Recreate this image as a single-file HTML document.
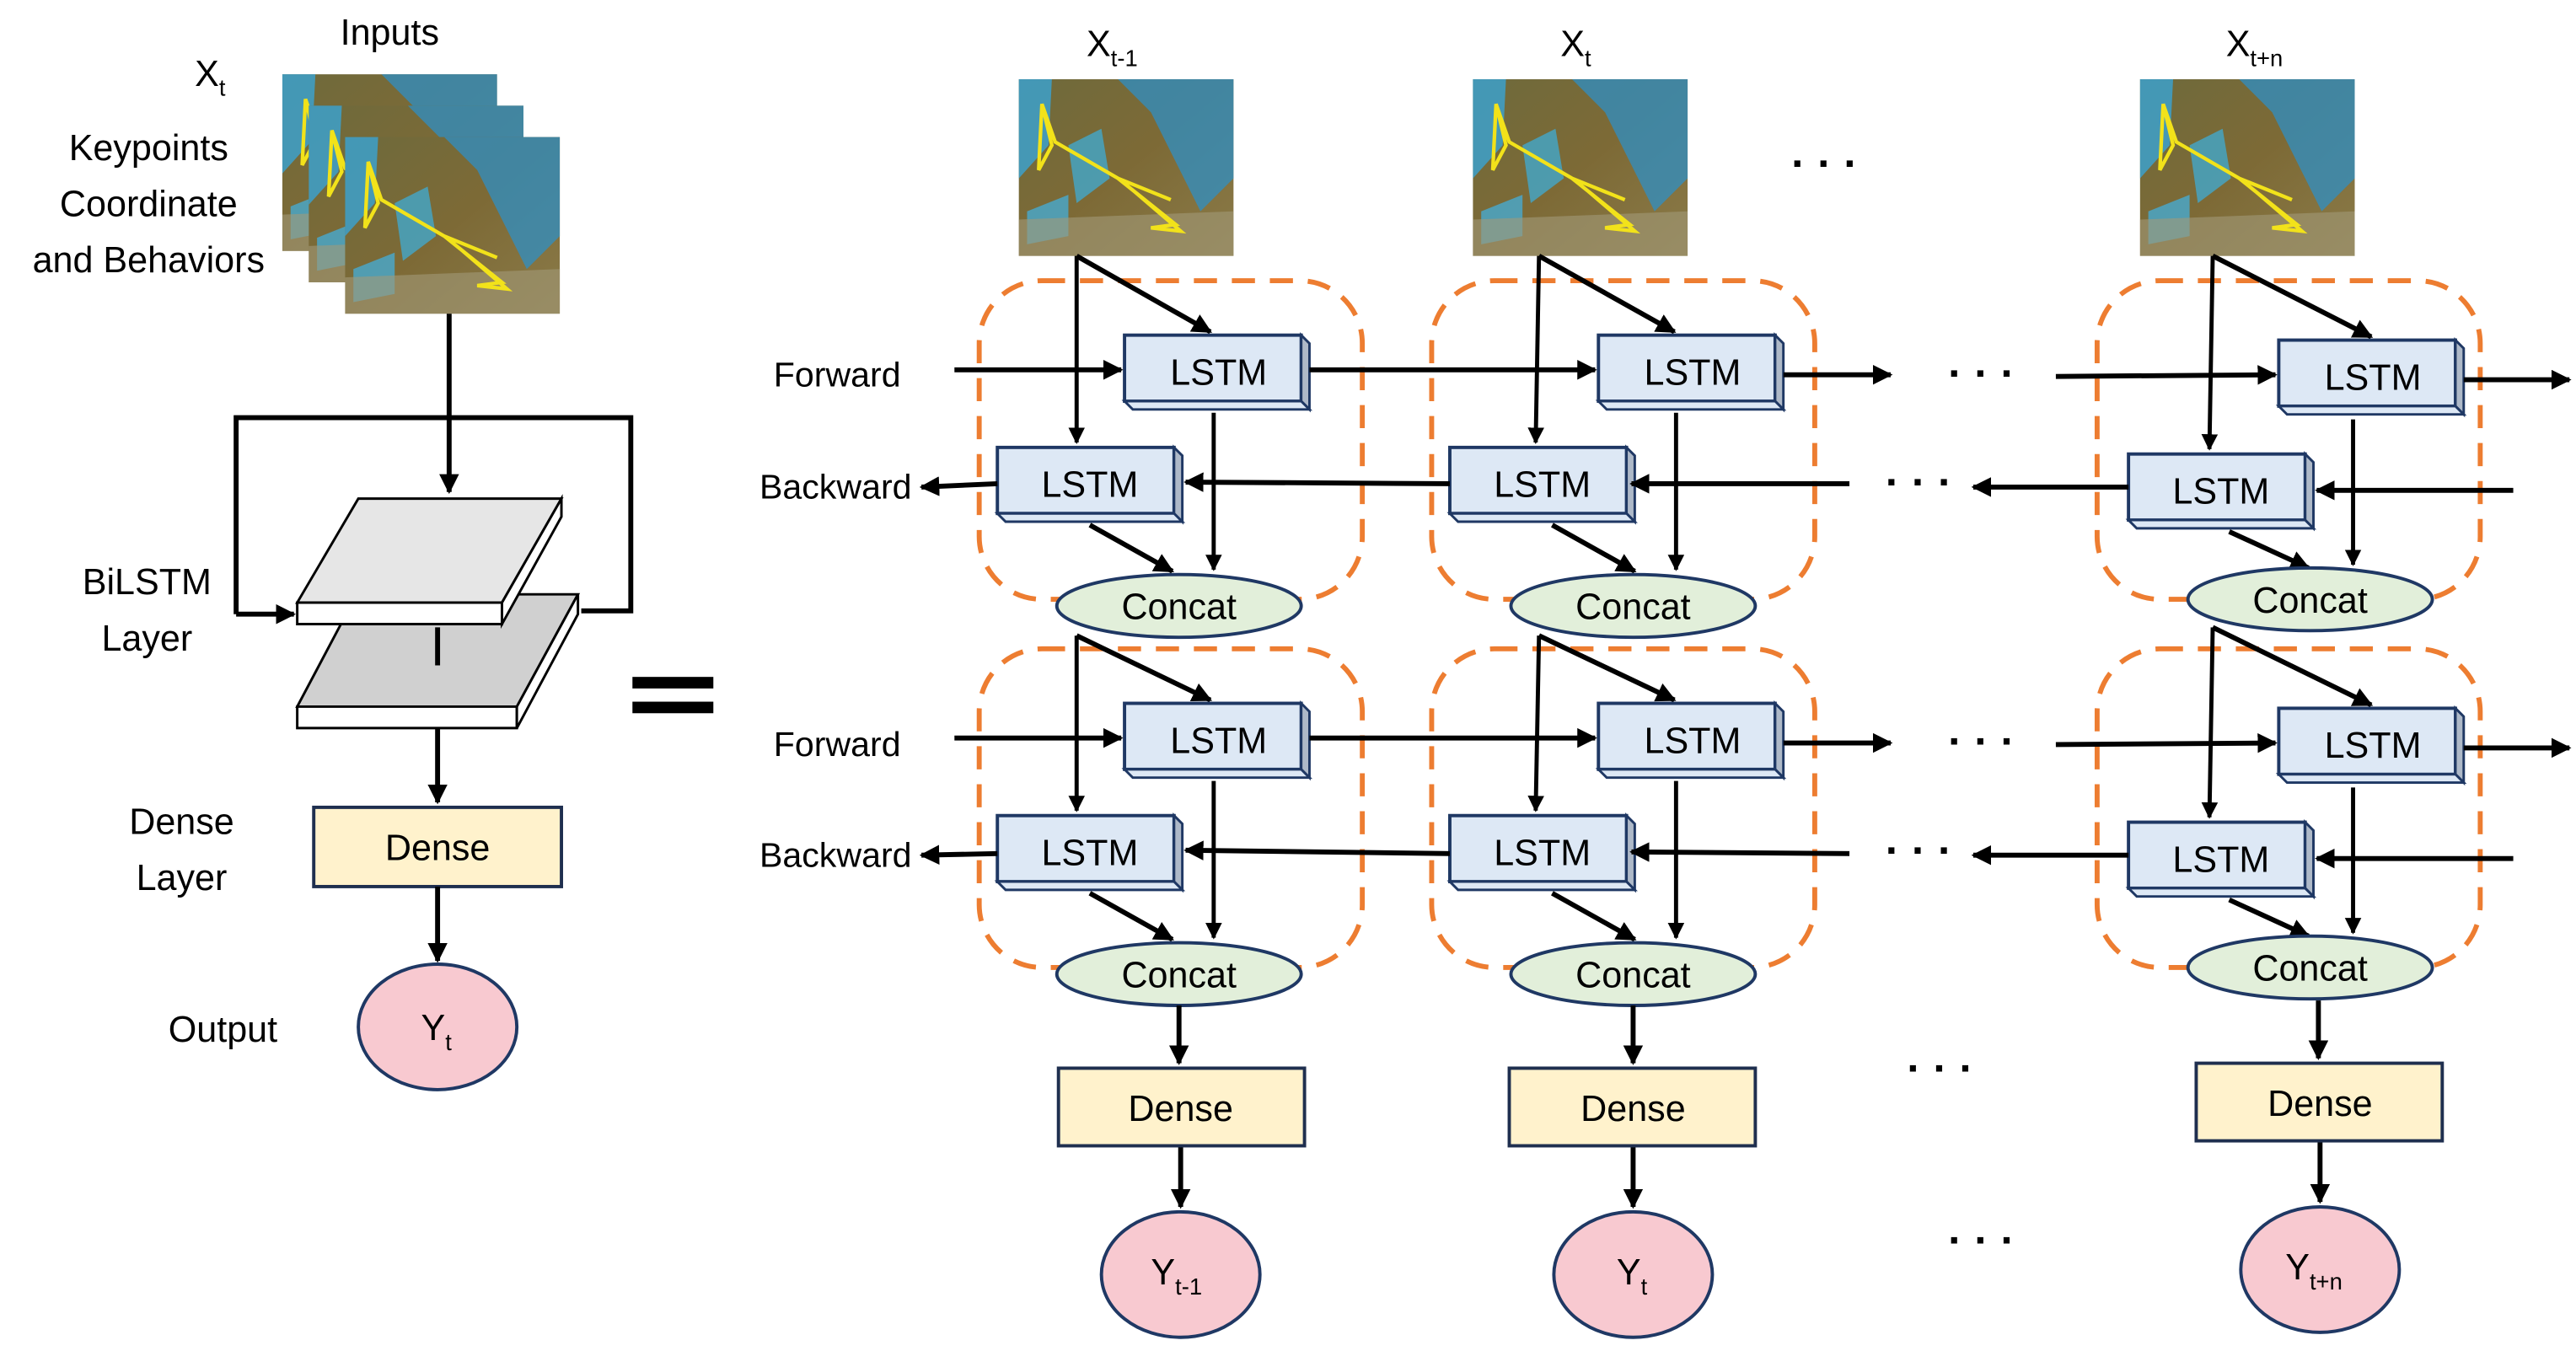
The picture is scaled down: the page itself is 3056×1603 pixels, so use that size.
<!DOCTYPE html>
<html><head><meta charset="utf-8"><style>
html,body{margin:0;padding:0;background:#fff;}
svg{display:block;}
text{font-family:"Liberation Sans",sans-serif;fill:#000;}
</style></head><body>
<svg width="3056" height="1603" viewBox="0 0 1560 818.3" preserveAspectRatio="none" xmlns="http://www.w3.org/2000/svg">
<defs>
<marker id="ah" viewBox="0 0 10 10" refX="9" refY="5" markerWidth="4" markerHeight="4" orient="auto" markerUnits="strokeWidth"><path d="M0,0 L10,5 L0,10 z" fill="#000"/></marker>
<linearGradient id="gb" x1="0" y1="0" x2="1" y2="1"><stop offset="0" stop-color="#6e6a3c"/><stop offset="0.5" stop-color="#7d6a36"/><stop offset="1" stop-color="#8a7a48"/></linearGradient>
<g id="img">
<rect width="130" height="107" fill="url(#gb)"/>
<path d="M0,0 L20,0 L18,40 L0,60 Z" fill="#3aa4d4" opacity="0.8"/>
<path d="M60,0 L130,0 L130,60 L110,80 L95,50 L80,20 Z" fill="#2f8fc4" opacity="0.75"/>
<path d="M30,40 L50,30 L55,60 L35,75 Z" fill="#3ab0e0" opacity="0.7"/>
<path d="M5,80 L30,70 L30,95 L5,100 Z" fill="#40b4e6" opacity="0.7"/>
<path d="M0,85 L130,80 L130,107 L0,107 Z" fill="#a29a78" opacity="0.6"/>
<polyline points="14,15 20,40 12,55 14,15 22,38 60,60 95,88 80,90 98,92 70,68 60,60 92,73" fill="none" stroke="#f2e21a" stroke-width="2.2"/>
</g>
<g id="lstm">
<rect x="0" y="0" width="107" height="40" fill="#dde8f5" stroke="#1f3864" stroke-width="2"/>
<polygon points="107,0 112,5 112,45 107,40" fill="#aeb9c8" stroke="#1f3864" stroke-width="1.5"/>
<polygon points="0,40 107,40 112,45 5,45" fill="#dde8f5" stroke="#1f3864" stroke-width="1.5"/>
</g>
</defs>

<!-- LEFT -->
<text x="236" y="27" font-size="22" text-anchor="middle">Inputs</text>
<text x="118" y="52" font-size="22">X<tspan font-size="14" dy="6">t</tspan></text>
<text x="90" y="97" font-size="22" text-anchor="middle">Keypoints</text>
<text x="90" y="131" font-size="22" text-anchor="middle">Coordinate</text>
<text x="90" y="165" font-size="22" text-anchor="middle">and Behaviors</text>
<use href="#img" x="171" y="45"/>
<use href="#img" x="187" y="64"/>
<use href="#img" x="209" y="83"/>

<polyline points="143,372 143,253 382,253 382,370 352,370" fill="none" stroke="#000" stroke-width="3"/>
<line x1="143" y1="372" x2="178" y2="372" stroke="#000" stroke-width="3" marker-end="url(#ah)"/>
<line x1="272" y1="190" x2="272" y2="298" stroke="#000" stroke-width="3" marker-end="url(#ah)"/>
<polygon points="216,360 350,360 313,428 180,428" fill="#d0d0d0" stroke="#000" stroke-width="1.5"/>
<polygon points="180,428 313,428 313,441 180,441" fill="#fff" stroke="#000" stroke-width="1.5"/>
<polygon points="313,428 350,360 350,372 313,441" fill="#fff" stroke="#000" stroke-width="1.5"/>
<polygon points="217,302 340,302 304,365 180,365" fill="#e6e6e6" stroke="#000" stroke-width="1.5"/>
<polygon points="180,365 304,365 304,378 180,378" fill="#fff" stroke="#000" stroke-width="1.5"/>
<polygon points="304,365 340,302 340,313 304,378" fill="#fff" stroke="#000" stroke-width="1.5"/>
<line x1="265" y1="380" x2="265" y2="403" stroke="#000" stroke-width="3"/>
<line x1="265" y1="441" x2="265" y2="486" stroke="#000" stroke-width="3" marker-end="url(#ah)"/>
<rect x="190" y="489" width="150" height="48" fill="#fff2cc" stroke="#1f2f4f" stroke-width="2"/>
<text x="265" y="521" font-size="22" text-anchor="middle">Dense</text>
<line x1="265" y1="537" x2="265" y2="582" stroke="#000" stroke-width="3" marker-end="url(#ah)"/>
<ellipse cx="265" cy="622" rx="48" ry="38" fill="#f8c9d0" stroke="#1f3864" stroke-width="2"/>
<text x="255" y="630" font-size="22">Y<tspan font-size="14" dy="6">t</tspan></text>
<text x="89" y="360" font-size="22" text-anchor="middle">BiLSTM</text>
<text x="89" y="394" font-size="22" text-anchor="middle">Layer</text>
<text x="110" y="505" font-size="22" text-anchor="middle">Dense</text>
<text x="110" y="539" font-size="22" text-anchor="middle">Layer</text>
<text x="135" y="631" font-size="22" text-anchor="middle">Output</text>
<rect x="383" y="410" width="49" height="7" fill="#000"/>
<rect x="383" y="425" width="49" height="7" fill="#000"/>

<!-- RIGHT labels -->
<text x="658" y="34" font-size="22">X<tspan font-size="14" dy="6">t-1</tspan></text>
<text x="945" y="34" font-size="22">X<tspan font-size="14" dy="6">t</tspan></text>
<text x="1348" y="34" font-size="22">X<tspan font-size="14" dy="6">t+n</tspan></text>
<use href="#img" x="617" y="48"/>
<use href="#img" x="892" y="48"/>
<use href="#img" x="1296" y="48"/>
<text x="507" y="234" font-size="21" text-anchor="middle">Forward</text>
<text x="506" y="302" font-size="21" text-anchor="middle">Backward</text>
<text x="507" y="458" font-size="21" text-anchor="middle">Forward</text>
<text x="506" y="525" font-size="21" text-anchor="middle">Backward</text>

<g>
<rect x="593" y="170" width="232" height="193" rx="38" fill="none" stroke="#ed7d31" stroke-width="3" stroke-dasharray="14 9"/>
<line x1="652" y1="155" x2="652" y2="268" stroke="#000" stroke-width="2.5" marker-end="url(#ah)"/>
<line x1="652" y1="155" x2="733" y2="201" stroke="#000" stroke-width="3" marker-end="url(#ah)"/>
<use href="#lstm" x="681" y="203"/>
<text x="738" y="233" font-size="22" text-anchor="middle">LSTM</text>
<use href="#lstm" x="604" y="271"/>
<text x="660" y="301" font-size="22" text-anchor="middle">LSTM</text>
<line x1="735" y1="250" x2="735" y2="345" stroke="#000" stroke-width="2.5" marker-end="url(#ah)"/>
<line x1="660" y1="318" x2="710" y2="346" stroke="#000" stroke-width="3" marker-end="url(#ah)"/>
<ellipse cx="714" cy="367" rx="74" ry="19" fill="#e2efda" stroke="#1f3864" stroke-width="2"/>
<text x="714" y="375" font-size="22" text-anchor="middle">Concat</text>
</g>
<g transform="translate(274,0)">
<rect x="593" y="170" width="232" height="193" rx="38" fill="none" stroke="#ed7d31" stroke-width="3" stroke-dasharray="14 9"/>
<line x1="658" y1="155" x2="656" y2="268" stroke="#000" stroke-width="2.5" marker-end="url(#ah)"/>
<line x1="658" y1="155" x2="740" y2="201" stroke="#000" stroke-width="3" marker-end="url(#ah)"/>
<use href="#lstm" x="694" y="203"/>
<text x="751" y="233" font-size="22" text-anchor="middle">LSTM</text>
<use href="#lstm" x="604" y="271"/>
<text x="660" y="301" font-size="22" text-anchor="middle">LSTM</text>
<line x1="741" y1="250" x2="741" y2="345" stroke="#000" stroke-width="2.5" marker-end="url(#ah)"/>
<line x1="666" y1="318" x2="716" y2="346" stroke="#000" stroke-width="3" marker-end="url(#ah)"/>
<ellipse cx="715" cy="367" rx="74" ry="19" fill="#e2efda" stroke="#1f3864" stroke-width="2"/>
<text x="715" y="375" font-size="22" text-anchor="middle">Concat</text>
</g>
<g transform="translate(684,2)">
<rect x="586" y="168" width="232" height="193" rx="38" fill="none" stroke="#ed7d31" stroke-width="3" stroke-dasharray="14 9"/>
<line x1="656" y1="153" x2="654" y2="270" stroke="#000" stroke-width="2.5" marker-end="url(#ah)"/>
<line x1="656" y1="153" x2="752" y2="202" stroke="#000" stroke-width="3" marker-end="url(#ah)"/>
<use href="#lstm" x="696" y="204"/>
<text x="753" y="234" font-size="22" text-anchor="middle">LSTM</text>
<use href="#lstm" x="605" y="273"/>
<text x="661" y="303" font-size="22" text-anchor="middle">LSTM</text>
<line x1="741" y1="252" x2="741" y2="340" stroke="#000" stroke-width="2.5" marker-end="url(#ah)"/>
<line x1="666" y1="320" x2="714" y2="342" stroke="#000" stroke-width="3" marker-end="url(#ah)"/>
<ellipse cx="715" cy="361" rx="74" ry="19" fill="#e2efda" stroke="#1f3864" stroke-width="2"/>
<text x="715" y="369" font-size="22" text-anchor="middle">Concat</text>
</g>

<g transform="translate(0,223)">
<rect x="593" y="170" width="232" height="193" rx="38" fill="none" stroke="#ed7d31" stroke-width="3" stroke-dasharray="14 9"/>
<line x1="652" y1="162" x2="652" y2="268" stroke="#000" stroke-width="2.5" marker-end="url(#ah)"/>
<line x1="652" y1="162" x2="733" y2="201" stroke="#000" stroke-width="3" marker-end="url(#ah)"/>
<use href="#lstm" x="681" y="203"/>
<text x="738" y="233" font-size="22" text-anchor="middle">LSTM</text>
<use href="#lstm" x="604" y="271"/>
<text x="660" y="301" font-size="22" text-anchor="middle">LSTM</text>
<line x1="735" y1="250" x2="735" y2="345" stroke="#000" stroke-width="2.5" marker-end="url(#ah)"/>
<line x1="660" y1="318" x2="710" y2="346" stroke="#000" stroke-width="3" marker-end="url(#ah)"/>
<ellipse cx="714" cy="367" rx="74" ry="19" fill="#e2efda" stroke="#1f3864" stroke-width="2"/>
<text x="714" y="375" font-size="22" text-anchor="middle">Concat</text>
</g>
<g transform="translate(274,223)">
<rect x="593" y="170" width="232" height="193" rx="38" fill="none" stroke="#ed7d31" stroke-width="3" stroke-dasharray="14 9"/>
<line x1="658" y1="162" x2="656" y2="268" stroke="#000" stroke-width="2.5" marker-end="url(#ah)"/>
<line x1="658" y1="162" x2="740" y2="201" stroke="#000" stroke-width="3" marker-end="url(#ah)"/>
<use href="#lstm" x="694" y="203"/>
<text x="751" y="233" font-size="22" text-anchor="middle">LSTM</text>
<use href="#lstm" x="604" y="271"/>
<text x="660" y="301" font-size="22" text-anchor="middle">LSTM</text>
<line x1="741" y1="250" x2="741" y2="345" stroke="#000" stroke-width="2.5" marker-end="url(#ah)"/>
<line x1="666" y1="318" x2="716" y2="346" stroke="#000" stroke-width="3" marker-end="url(#ah)"/>
<ellipse cx="715" cy="367" rx="74" ry="19" fill="#e2efda" stroke="#1f3864" stroke-width="2"/>
<text x="715" y="375" font-size="22" text-anchor="middle">Concat</text>
</g>
<g transform="translate(684,225)">
<rect x="586" y="168" width="232" height="193" rx="38" fill="none" stroke="#ed7d31" stroke-width="3" stroke-dasharray="14 9"/>
<line x1="656" y1="155" x2="654" y2="270" stroke="#000" stroke-width="2.5" marker-end="url(#ah)"/>
<line x1="656" y1="155" x2="752" y2="202" stroke="#000" stroke-width="3" marker-end="url(#ah)"/>
<use href="#lstm" x="696" y="204"/>
<text x="753" y="234" font-size="22" text-anchor="middle">LSTM</text>
<use href="#lstm" x="605" y="273"/>
<text x="661" y="303" font-size="22" text-anchor="middle">LSTM</text>
<line x1="741" y1="252" x2="741" y2="340" stroke="#000" stroke-width="2.5" marker-end="url(#ah)"/>
<line x1="666" y1="320" x2="714" y2="342" stroke="#000" stroke-width="3" marker-end="url(#ah)"/>
<ellipse cx="715" cy="361" rx="74" ry="19" fill="#e2efda" stroke="#1f3864" stroke-width="2"/>
<text x="715" y="369" font-size="22" text-anchor="middle">Concat</text>
</g>

<g stroke="#000" stroke-width="3" fill="none">
<line x1="578" y1="224" x2="679" y2="224" marker-end="url(#ah)"/>
<line x1="793" y1="224" x2="966" y2="224" marker-end="url(#ah)"/>
<line x1="1080" y1="227" x2="1145" y2="227" marker-end="url(#ah)"/>
<line x1="1245" y1="228" x2="1378" y2="227" marker-end="url(#ah)"/>
<line x1="1492" y1="230" x2="1556" y2="230" marker-end="url(#ah)"/>
<line x1="1522" y1="297" x2="1403" y2="297" marker-end="url(#ah)"/>
<line x1="1289" y1="295" x2="1195" y2="295" marker-end="url(#ah)"/>
<line x1="1120" y1="293" x2="988" y2="293" marker-end="url(#ah)"/>
<line x1="878" y1="293" x2="718" y2="292" marker-end="url(#ah)"/>
<line x1="604" y1="293" x2="558" y2="295" marker-end="url(#ah)"/>

<line x1="578" y1="447" x2="679" y2="447" marker-end="url(#ah)"/>
<line x1="793" y1="447" x2="966" y2="447" marker-end="url(#ah)"/>
<line x1="1080" y1="450" x2="1145" y2="450" marker-end="url(#ah)"/>
<line x1="1245" y1="451" x2="1378" y2="450" marker-end="url(#ah)"/>
<line x1="1492" y1="453" x2="1556" y2="453" marker-end="url(#ah)"/>
<line x1="1522" y1="520" x2="1403" y2="520" marker-end="url(#ah)"/>
<line x1="1289" y1="518" x2="1195" y2="518" marker-end="url(#ah)"/>
<line x1="1120" y1="517" x2="988" y2="516" marker-end="url(#ah)"/>
<line x1="878" y1="517" x2="718" y2="515" marker-end="url(#ah)"/>
<line x1="604" y1="517" x2="558" y2="518" marker-end="url(#ah)"/>

<line x1="714" y1="609" x2="714" y2="644" marker-end="url(#ah)"/>
<line x1="989" y1="609" x2="989" y2="644" marker-end="url(#ah)"/>
<line x1="1404" y1="606" x2="1404" y2="641" marker-end="url(#ah)"/>
<line x1="715" y1="694" x2="715" y2="731" marker-end="url(#ah)"/>
<line x1="989" y1="694" x2="989" y2="731" marker-end="url(#ah)"/>
<line x1="1405" y1="691" x2="1405" y2="728" marker-end="url(#ah)"/>
</g>

<rect x="641" y="647" width="149" height="47" fill="#fff2cc" stroke="#1f2f4f" stroke-width="2"/>
<text x="715" y="679" font-size="22" text-anchor="middle">Dense</text>
<rect x="914" y="647" width="149" height="47" fill="#fff2cc" stroke="#1f2f4f" stroke-width="2"/>
<text x="989" y="679" font-size="22" text-anchor="middle">Dense</text>
<rect x="1330" y="644" width="149" height="47" fill="#fff2cc" stroke="#1f2f4f" stroke-width="2"/>
<text x="1405" y="676" font-size="22" text-anchor="middle">Dense</text>
<ellipse cx="715" cy="772" rx="48" ry="38" fill="#f8c9d0" stroke="#1f3864" stroke-width="2"/>
<text x="697" y="778" font-size="22">Y<tspan font-size="14" dy="6">t-1</tspan></text>
<ellipse cx="989" cy="772" rx="48" ry="38" fill="#f8c9d0" stroke="#1f3864" stroke-width="2"/>
<text x="979" y="778" font-size="22">Y<tspan font-size="14" dy="6">t</tspan></text>
<ellipse cx="1405" cy="769" rx="48" ry="38" fill="#f8c9d0" stroke="#1f3864" stroke-width="2"/>
<text x="1384" y="775" font-size="22">Y<tspan font-size="14" dy="6">t+n</tspan></text>

<g font-size="26" font-weight="bold" text-anchor="middle">
<text x="1105" y="108">· · ·</text>
<text x="1200" y="235">· · ·</text>
<text x="1162" y="301">· · ·</text>
<text x="1200" y="458">· · ·</text>
<text x="1162" y="524">· · ·</text>
<text x="1175" y="656">· · ·</text>
<text x="1200" y="760">· · ·</text>
</g>
</svg>
</body></html>
